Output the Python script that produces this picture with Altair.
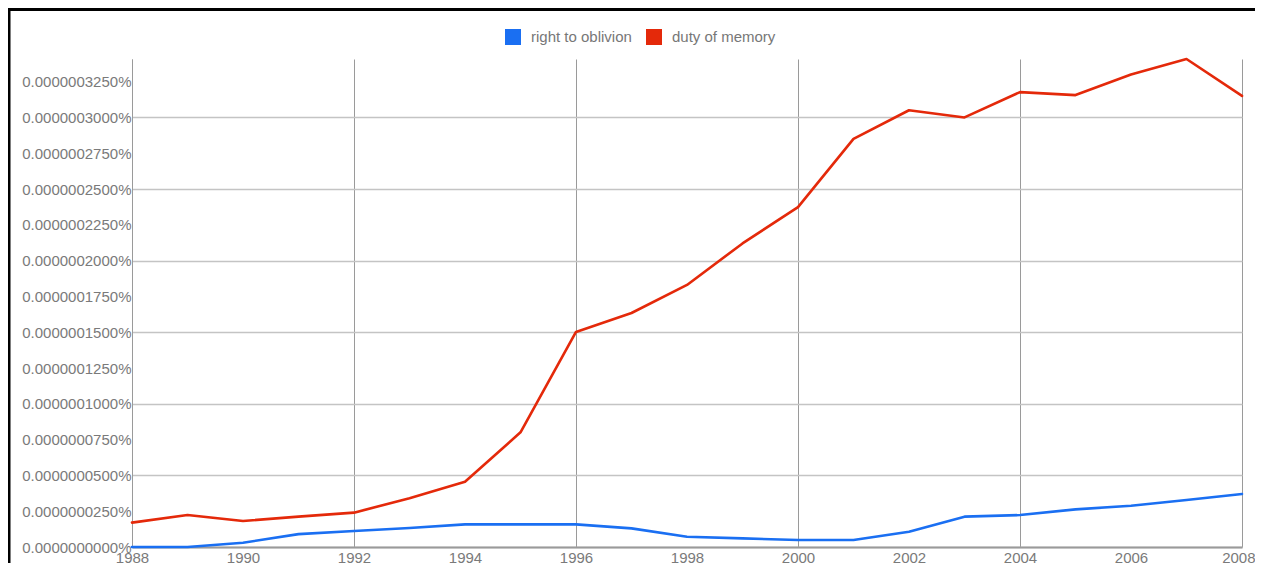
import altair as alt
import pandas as pd

years = list(range(1988, 2009))
series_names = ["right to oblivion", "duty of memory"]
right_to_oblivion = [0.0, 0.0, 3.0e-9, 9.0e-9, 1.12e-8, 1.33e-8, 1.58e-8, 1.58e-8, 1.58e-8,
                     1.30e-8, 7.2e-9, 6.0e-9, 4.9e-9, 4.9e-9, 1.07e-8, 2.12e-8, 2.23e-8,
                     2.63e-8, 2.88e-8, 3.28e-8, 3.70e-8]
duty_of_memory = [1.70e-8, 2.23e-8, 1.82e-8, 2.12e-8, 2.40e-8, 3.40e-8, 4.56e-8, 8.01e-8,
                  1.502e-7, 1.634e-7, 1.83e-7, 2.12e-7, 2.374e-7, 2.85e-7, 3.05e-7, 3.00e-7,
                  3.177e-7, 3.156e-7, 3.30e-7, 3.408e-7, 3.15e-7]
y_ticks = [round(i * 2.5e-8, 12) for i in range(14)]
x_ticks = list(range(1988, 2009, 2))
colors = ["#1a6ff2", "#e4290a"]

rows = []
for name, vals in zip(series_names, [right_to_oblivion, duty_of_memory]):
    for yr, v in zip(years, vals):
        rows.append({"year": yr, "series": name, "value": v})
df = pd.DataFrame(rows)

FONT = "Liberation Sans"
FS = 15

lines = alt.Chart(df).mark_line(strokeWidth=2.6, strokeCap="round", strokeJoin="round").encode(
    x=alt.X("year:Q",
            scale=alt.Scale(domain=[1988, 2008], nice=False, zero=False),
            axis=alt.Axis(values=x_ticks, format="d", title=None, ticks=False,
                          labelPadding=3, labelFlush=False, labelOverlap=False,
                          labelAlign={"condition": {"test": "datum.value == 2008", "value": "right"}, "value": "center"},
                          labelOffset={"condition": {"test": "datum.value == 2008", "value": 13}, "value": 0},
                          domainColor="#9a9a9a", domainWidth=2,
                          gridColor="#9a9a9a", gridWidth=1,
                          gridOpacity={"condition": {"test": "(datum.value - 1988) % 4 == 0", "value": 1}, "value": 0})),
    y=alt.Y("value:Q",
            scale=alt.Scale(domain=[0, 3.408e-7], nice=False, zero=True),
            axis=alt.Axis(values=y_ticks, title=None, ticks=False, labelPadding=1,
                          labelOverlap=False,
                          labelExpr="format(datum.value, '.10f') + '%'",
                          domainColor="#9a9a9a", domainWidth=1,
                          gridColor="#c4c4c4", gridWidth=1.5,
                          gridOpacity={"condition": {"test": "round(datum.value * 4e7) % 2 == 0", "value": 1}, "value": 0})),
    stroke=alt.Stroke("series:N", scale=alt.Scale(domain=series_names, range=colors),
                      sort=series_names,
                      legend=alt.Legend(orient="none", legendX=373, legendY=-30,
                                        direction="horizontal", title=None,
                                        symbolType="square", symbolSize=64,
                                        symbolStrokeWidth=8, labelOffset=10,
                                        columnPadding=2)),
)

frame_df = pd.DataFrame({"k": [0]})
left_border = alt.Chart(frame_df).mark_rule(color="black", strokeWidth=3).encode(
    x=alt.value(-123), y=alt.value(-52), y2=alt.value(520))
top_border = alt.Chart(frame_df).mark_rule(color="black", strokeWidth=3).encode(
    x=alt.value(-125), x2=alt.value(1123), y=alt.value(-49.5))

chart = alt.layer(lines, left_border, top_border).properties(
    width=1110, height=488, autosize="none",
    padding={"left": 124, "top": 51, "right": 13, "bottom": 16},
).configure_view(stroke="transparent").configure_axis(
    labelFont=FONT, labelFontSize=FS, labelColor="#7a7a7a"
).configure_legend(
    labelFont=FONT, labelFontSize=FS, labelColor="#777777"
)

chart.save("out.html", embed_options={"renderer": "svg", "actions": False})
